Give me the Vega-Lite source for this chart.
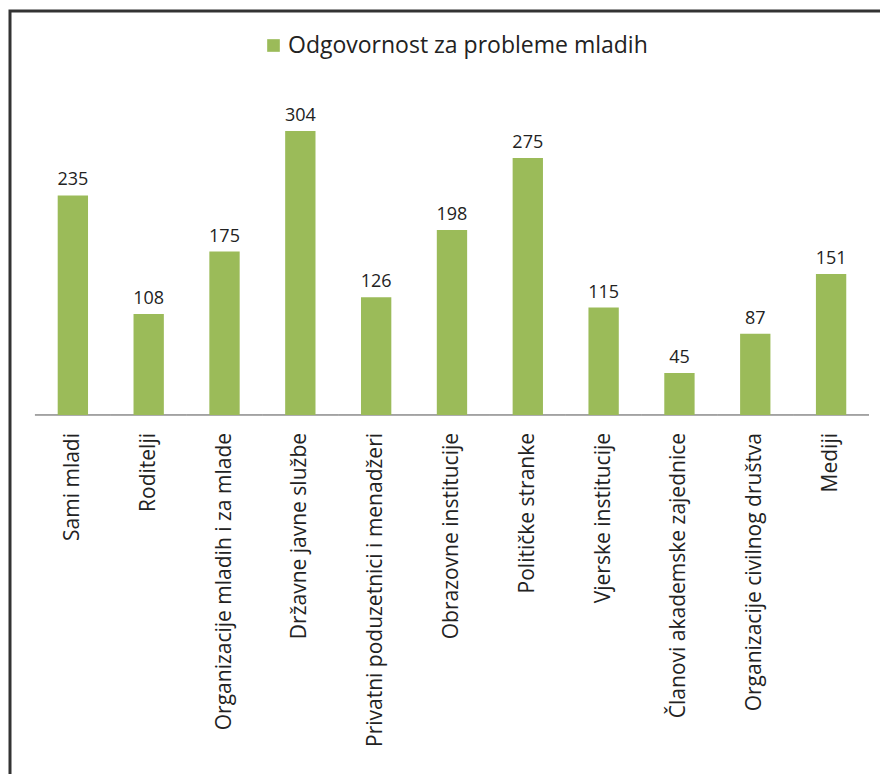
{
  "$schema": "https://vega.github.io/schema/vega-lite/v6.json",
  "autosize": {"type": "none"},
  "width": 880,
  "height": 790,
  "padding": {"left": 10, "top": 11, "right": -10, "bottom": -27},
  "background": "white",
  "config": {
    "view": {"stroke": "#333", "strokeWidth": 3},
    "font": "Open Sans"
  },
  "data": {
    "values": [
      {"kat": "Sami mladi", "vrijednost": 235, "serija": "Odgovornost za probleme mladih"},
      {"kat": "Roditelji", "vrijednost": 108, "serija": "Odgovornost za probleme mladih"},
      {"kat": "Organizacije mladih i za mlade", "vrijednost": 175, "serija": "Odgovornost za probleme mladih"},
      {"kat": "Državne javne službe", "vrijednost": 304, "serija": "Odgovornost za probleme mladih"},
      {"kat": "Privatni poduzetnici i menadžeri", "vrijednost": 126, "serija": "Odgovornost za probleme mladih"},
      {"kat": "Obrazovne institucije", "vrijednost": 198, "serija": "Odgovornost za probleme mladih"},
      {"kat": "Političke stranke", "vrijednost": 275, "serija": "Odgovornost za probleme mladih"},
      {"kat": "Vjerske institucije", "vrijednost": 115, "serija": "Odgovornost za probleme mladih"},
      {"kat": "Članovi akademske zajednice", "vrijednost": 45, "serija": "Odgovornost za probleme mladih"},
      {"kat": "Organizacije civilnog društva", "vrijednost": 87, "serija": "Odgovornost za probleme mladih"},
      {"kat": "Mediji", "vrijednost": 151, "serija": "Odgovornost za probleme mladih"}
    ]
  },
  "encoding": {
    "x": {
      "field": "kat",
      "type": "nominal",
      "sort": null,
      "axis": null,
      "scale": {"paddingInner": 0, "paddingOuter": 0.303, "align": 0.543}
    }
  },
  "layer": [
    {
      "mark": {"type": "bar", "width": {"band": 1}, "fill": null, "stroke": "#8a8a8a", "strokeWidth": 1},
      "encoding": {
        "y": {"datum": 0, "type": "quantitative", "scale": {"domain": [-413.3, 432.5], "nice": false, "zero": false}, "axis": null},
        "y2": {"datum": 0}
      }
    },
    {
      "mark": {"type": "bar", "width": {"band": 0.4}},
      "encoding": {
        "y": {"field": "vrijednost", "type": "quantitative", "axis": null},
        "y2": {"datum": 0},
        "color": {
          "field": "serija",
          "type": "nominal",
          "scale": {"range": ["#9BBB59"]},
          "legend": {
            "title": null,
            "orient": "none",
            "legendX": 252,
            "legendY": 23,
            "symbolType": "square",
            "symbolSize": 160,
            "symbolStrokeWidth": 0,
            "labelFontSize": 23,
            "labelFont": "Open Sans",
            "labelColor": "#222",
            "labelLimit": 600,
            "labelOffset": 3
          }
        }
      }
    },
    {
      "mark": {"type": "text", "baseline": "alphabetic", "dy": -10, "fontSize": 18, "color": "#222"},
      "encoding": {
        "y": {"field": "vrijednost", "type": "quantitative"},
        "text": {"field": "vrijednost", "type": "quantitative"}
      }
    },
    {
      "mark": {"type": "text", "angle": 270, "align": "right", "baseline": "middle", "dx": -18, "fontSize": 21, "color": "#222"},
      "encoding": {
        "y": {"datum": 0, "type": "quantitative"},
        "text": {"field": "kat", "type": "nominal"}
      }
    }
  ]
}
